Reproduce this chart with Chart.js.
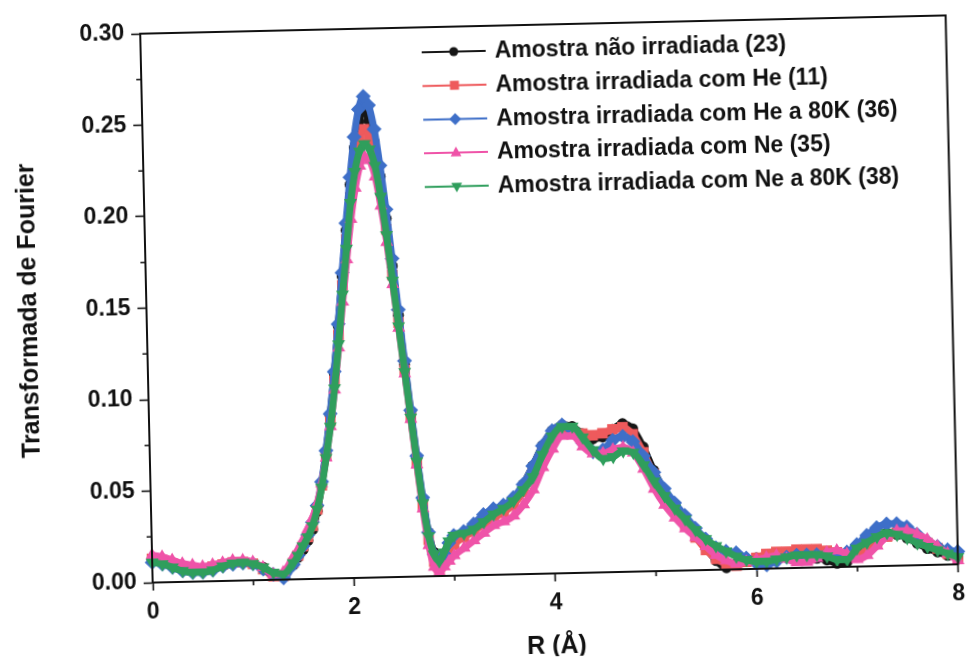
<!DOCTYPE html>
<html>
<head>
<meta charset="utf-8">
<script src="https://cdn.jsdelivr.net/npm/chart.js@4.4.1/dist/chart.umd.min.js"></script>
<style>
  html, body { margin: 0; padding: 0; background: #fff; overflow: hidden; }
  #wrap {
    position: absolute; left: 0; top: 0; width: 967px; height: 658px;
    transform: rotate(-1.3deg); transform-origin: 483.5px 329px;
  }
</style>
</head>
<body>
<div id="wrap"><canvas id="c" width="967" height="658"></canvas></div>
<script>
// Distance R (Å) at which each curve is sampled
const rValues = [
  0.0, 0.1, 0.2, 0.3, 0.4, 0.5, 0.6, 0.7, 0.8, 0.9, 1.0, 1.1, 1.2, 1.3, 1.4,
  1.45, 1.5, 1.55, 1.6, 1.65, 1.7, 1.75, 1.8, 1.85, 1.9, 1.95, 2.0, 2.05, 2.1, 2.15,
  2.2, 2.25, 2.3, 2.35, 2.4, 2.45, 2.5, 2.55, 2.6, 2.65, 2.7, 2.75, 2.8, 2.85, 2.9, 2.95,
  3.0, 3.1, 3.2, 3.3, 3.4, 3.5, 3.6, 3.7, 3.8, 3.9,
  4.0, 4.1, 4.2, 4.3, 4.4, 4.5, 4.6, 4.7, 4.8, 4.9,
  5.0, 5.1, 5.2, 5.3, 5.4, 5.5, 5.6, 5.7, 5.8, 5.9,
  6.0, 6.1, 6.2, 6.3, 6.4, 6.5, 6.6, 6.7, 6.8, 6.9,
  7.0, 7.1, 7.2, 7.3, 7.4, 7.5, 7.6, 7.7, 7.8, 7.9, 8.0
];

const seriesLabels = [
  'Amostra não irradiada (23)',
  'Amostra irradiada com He (11)',
  'Amostra irradiada com He a 80K (36)',
  'Amostra irradiada com Ne (35)',
  'Amostra irradiada com Ne a 80K (38)'
];

// |FT| magnitude of each sample
const naoIrradiada = [
  0.012, 0.011, 0.009, 0.007, 0.006, 0.006, 0.007, 0.009, 0.010, 0.010, 0.009, 0.007, 0.003, 0.002, 0.008,
  0.012, 0.016, 0.021, 0.027, 0.037, 0.051, 0.069, 0.089, 0.112, 0.138, 0.165, 0.190, 0.215, 0.235, 0.249,
  0.255, 0.250, 0.238, 0.219, 0.196, 0.170, 0.143, 0.116, 0.090, 0.065, 0.042, 0.024, 0.013, 0.009, 0.011, 0.016,
  0.019, 0.022, 0.025, 0.029, 0.032, 0.036, 0.041, 0.049, 0.059, 0.070,
  0.078, 0.081, 0.080, 0.076, 0.073, 0.074, 0.078, 0.081, 0.078, 0.068,
  0.055, 0.044, 0.035, 0.027, 0.019, 0.012, 0.005, 0.001, 0.003, 0.005,
  0.006, 0.006, 0.006, 0.006, 0.006, 0.006, 0.005, 0.004, 0.002, 0.003,
  0.009, 0.013, 0.016, 0.018, 0.017, 0.015, 0.012, 0.009, 0.007, 0.005, 0.004
];

const irradiadaHe = [
  0.013, 0.012, 0.010, 0.008, 0.007, 0.007, 0.008, 0.009, 0.010, 0.010, 0.009, 0.006, 0.002, 0.002, 0.009,
  0.013, 0.018, 0.023, 0.029, 0.038, 0.051, 0.067, 0.086, 0.108, 0.133, 0.160, 0.185, 0.208, 0.227, 0.240,
  0.245, 0.241, 0.230, 0.212, 0.190, 0.165, 0.139, 0.113, 0.087, 0.062, 0.039, 0.020, 0.008, 0.004, 0.008, 0.013,
  0.017, 0.021, 0.024, 0.028, 0.031, 0.034, 0.038, 0.045, 0.055, 0.066,
  0.074, 0.078, 0.078, 0.076, 0.075, 0.076, 0.078, 0.079, 0.075, 0.065,
  0.053, 0.042, 0.033, 0.025, 0.018, 0.011, 0.006, 0.003, 0.002, 0.004,
  0.006, 0.008, 0.009, 0.009, 0.010, 0.010, 0.010, 0.009, 0.008, 0.006,
  0.006, 0.009, 0.013, 0.016, 0.018, 0.017, 0.015, 0.012, 0.009, 0.006, 0.003
];

const irradiadaHe80K = [
  0.011, 0.010, 0.008, 0.006, 0.005, 0.005, 0.006, 0.008, 0.009, 0.0095, 0.009, 0.006, 0.003, 0.001, 0.008,
  0.013, 0.018, 0.024, 0.031, 0.040, 0.053, 0.070, 0.090, 0.113, 0.139, 0.167, 0.194, 0.219, 0.241, 0.256,
  0.263, 0.258, 0.245, 0.225, 0.201, 0.174, 0.146, 0.118, 0.091, 0.066, 0.043, 0.024, 0.012, 0.008, 0.012, 0.018,
  0.022, 0.024, 0.028, 0.033, 0.036, 0.038, 0.042, 0.049, 0.059, 0.070,
  0.078, 0.081, 0.078, 0.071, 0.066, 0.067, 0.072, 0.074, 0.071, 0.063,
  0.054, 0.045, 0.037, 0.030, 0.023, 0.017, 0.012, 0.010, 0.009, 0.006,
  0.003, 0.002, 0.004, 0.006, 0.007, 0.007, 0.007, 0.007, 0.007, 0.008,
  0.012, 0.017, 0.021, 0.023, 0.023, 0.021, 0.017, 0.013, 0.010, 0.008, 0.007
];

const irradiadaNe = [
  0.015, 0.014, 0.012, 0.010, 0.009, 0.008, 0.009, 0.010, 0.011, 0.011, 0.010, 0.007, 0.003, 0.004, 0.012,
  0.016, 0.021, 0.027, 0.033, 0.041, 0.052, 0.066, 0.083, 0.103, 0.126, 0.151, 0.174, 0.196, 0.213, 0.225,
  0.230, 0.228, 0.219, 0.203, 0.183, 0.160, 0.136, 0.111, 0.086, 0.061, 0.037, 0.017, 0.005, 0.002, 0.005, 0.008,
  0.011, 0.015, 0.019, 0.023, 0.027, 0.029, 0.032, 0.038, 0.046, 0.058,
  0.068, 0.075, 0.075, 0.069, 0.065, 0.065, 0.067, 0.068, 0.065, 0.056,
  0.045, 0.036, 0.029, 0.023, 0.018, 0.013, 0.008, 0.005, 0.003, 0.004,
  0.005, 0.006, 0.007, 0.005, 0.003, 0.003, 0.005, 0.008, 0.009, 0.007,
  0.004, 0.006, 0.011, 0.016, 0.019, 0.019, 0.017, 0.014, 0.010, 0.006, 0.002
];

const irradiadaNe80K = [
  0.011, 0.010, 0.008, 0.006, 0.005, 0.005, 0.006, 0.008, 0.0095, 0.0098, 0.009, 0.007, 0.004, 0.003, 0.009,
  0.013, 0.018, 0.023, 0.029, 0.038, 0.050, 0.066, 0.083, 0.104, 0.128, 0.155, 0.180, 0.205, 0.222, 0.233,
  0.237, 0.234, 0.225, 0.208, 0.187, 0.162, 0.137, 0.112, 0.087, 0.063, 0.040, 0.022, 0.012, 0.008, 0.013, 0.019,
  0.022, 0.023, 0.025, 0.029, 0.033, 0.036, 0.040, 0.046, 0.053, 0.065,
  0.075, 0.080, 0.080, 0.074, 0.067, 0.062, 0.063, 0.066, 0.065, 0.058,
  0.049, 0.041, 0.034, 0.028, 0.022, 0.017, 0.013, 0.010, 0.007, 0.005,
  0.004, 0.004, 0.005, 0.006, 0.007, 0.007, 0.007, 0.006, 0.004, 0.004,
  0.010, 0.013, 0.016, 0.018, 0.017, 0.015, 0.012, 0.010, 0.008, 0.006, 0.004
];

const xTickValues = [0, 2, 4, 6, 8];
const xMinorTicks = [1, 3, 5, 7];
const yTickValues = [0, 0.05, 0.10, 0.15, 0.20, 0.25, 0.30];
const yMinorTicks = [0.025, 0.075, 0.125, 0.175, 0.225, 0.275];

const FONT = '"Liberation Sans", Arial, Helvetica, sans-serif';
const INK = '#111111';

const seriesValues = [naoIrradiada, irradiadaHe, irradiadaHe80K, irradiadaNe, irradiadaNe80K];
const seriesColors = ['#161616', '#ee5a5c', '#3e6fc8', '#ef53a8', '#2f9e5c'];
const seriesMarkers = [
  { style: 'circle', rotation: 0, radius: 5.5 },
  { style: 'rect', rotation: 0, radius: 7.5 },
  { style: 'rectRot', rotation: 0, radius: 7.5 },
  { style: 'triangle', rotation: 0, radius: 7.5 },
  { style: 'triangle', rotation: 180, radius: 7.5 }
];

const datasets = seriesValues.map((vals, i) => ({
  label: seriesLabels[i],
  data: vals.map((v, k) => ({ x: rValues[k], y: v })),
  borderColor: seriesColors[i],
  backgroundColor: seriesColors[i],
  borderWidth: 7,
  pointStyle: seriesMarkers[i].style,
  pointRotation: seriesMarkers[i].rotation,
  pointRadius: seriesMarkers[i].radius,
  pointBorderWidth: 0,
  pointHoverRadius: seriesMarkers[i].radius,
  showLine: true,
  cubicInterpolationMode: 'monotone',
  clip: false,
  order: seriesValues.length - 1 - i
}));

// small marker painter for the legend symbols
function paintMarker(ctx, style, rotation, x, y, r, color) {
  ctx.save();
  ctx.translate(x, y);
  ctx.rotate(rotation * Math.PI / 180);
  ctx.fillStyle = color;
  ctx.beginPath();
  if (style === 'circle') {
    ctx.arc(0, 0, r, 0, Math.PI * 2);
  } else if (style === 'rect') {
    ctx.rect(-r * 0.75, -r * 0.75, r * 1.5, r * 1.5);
  } else if (style === 'rectRot') {
    ctx.moveTo(0, -r); ctx.lineTo(r, 0); ctx.lineTo(0, r); ctx.lineTo(-r, 0); ctx.closePath();
  } else if (style === 'triangle') {
    ctx.moveTo(0, -r); ctx.lineTo(r * 0.9, r * 0.6); ctx.lineTo(-r * 0.9, r * 0.6); ctx.closePath();
  }
  ctx.fill();
  ctx.restore();
}

const framePlugin = {
  id: 'frameAndMinorTicks',
  afterDraw(chart) {
    const { ctx, chartArea: a, scales } = chart;
    ctx.save();
    ctx.strokeStyle = INK;
    ctx.lineWidth = 2;
    ctx.strokeRect(a.left, a.top, a.right - a.left, a.bottom - a.top);
    ctx.lineWidth = 1.6;
    ctx.beginPath();
    yMinorTicks.forEach(v => {
      const py = scales.y.getPixelForValue(v);
      ctx.moveTo(a.left, py); ctx.lineTo(a.left - 5, py);
    });
    xMinorTicks.forEach(v => {
      const px = scales.x.getPixelForValue(v);
      ctx.moveTo(px, a.bottom); ctx.lineTo(px, a.bottom + 5);
    });
    ctx.stroke();
    ctx.restore();
  }
};

const legendPlugin = {
  id: 'sampleLegend',
  afterDraw(chart) {
    const ctx = chart.ctx;
    ctx.save();
    chart.data.datasets.forEach((ds, i) => {
      const y = 51 + i * 33.7;
      ctx.strokeStyle = ds.borderColor;
      ctx.lineWidth = 2;
      ctx.beginPath(); ctx.moveTo(428, y); ctx.lineTo(492, y); ctx.stroke();
      const m = seriesMarkers[i];
      paintMarker(ctx, m.style, m.rotation, 460, y, m.style === 'circle' ? 4.5 : 6, ds.backgroundColor);
      ctx.fillStyle = INK;
      ctx.font = 'bold 23px ' + FONT;
      ctx.textAlign = 'left';
      ctx.textBaseline = 'middle';
      ctx.fillText(ds.label, 501, y + 1);
    });
    ctx.restore();
  }
};

new Chart(document.getElementById('c'), {
  type: 'scatter',
  data: { datasets },
  plugins: [framePlugin, legendPlugin],
  options: {
    responsive: false,
    animation: false,
    events: [],
    layout: { padding: { left: 0, top: 26, right: 13, bottom: 0 } },
    plugins: { legend: { display: false }, tooltip: { enabled: false } },
    scales: {
      x: {
        type: 'linear', min: 0, max: 8,
        afterBuildTicks: s => { s.ticks = xTickValues.map(v => ({ value: v })); },
        afterFit: s => { s.height = 83; },
        grid: { drawOnChartArea: false, drawTicks: true, tickLength: 8, tickWidth: 1.6, tickColor: INK },
        border: { display: true, color: INK, width: 2 },
        ticks: { color: INK, font: { family: FONT, size: 23, weight: 'bold' }, padding: 8,
                 maxRotation: 0, callback: v => String(v) },
        title: { display: true, text: 'R (Å)', color: INK,
                 font: { family: FONT, size: 25, weight: 'bold', lineHeight: 1 },
                 padding: { top: 0, bottom: -3 } }
      },
      y: {
        type: 'linear', min: 0, max: 0.30,
        afterBuildTicks: s => { s.ticks = yTickValues.map(v => ({ value: v })); },
        afterFit: s => { s.width = 147; },
        grid: { drawOnChartArea: false, drawTicks: true, tickLength: 9, tickWidth: 1.6, tickColor: INK },
        border: { display: true, color: INK, width: 2 },
        ticks: { color: INK, font: { family: FONT, size: 23, weight: 'bold' }, padding: 7,
                 callback: v => Number(v).toFixed(2) },
        title: { display: true, text: 'Transformada de Fourier', color: INK,
                 font: { family: FONT, size: 25, weight: 'bold', lineHeight: 1.2 },
                 padding: { top: 15, bottom: 0 } }
      }
    }
  }
});
</script>
</body>
</html>
